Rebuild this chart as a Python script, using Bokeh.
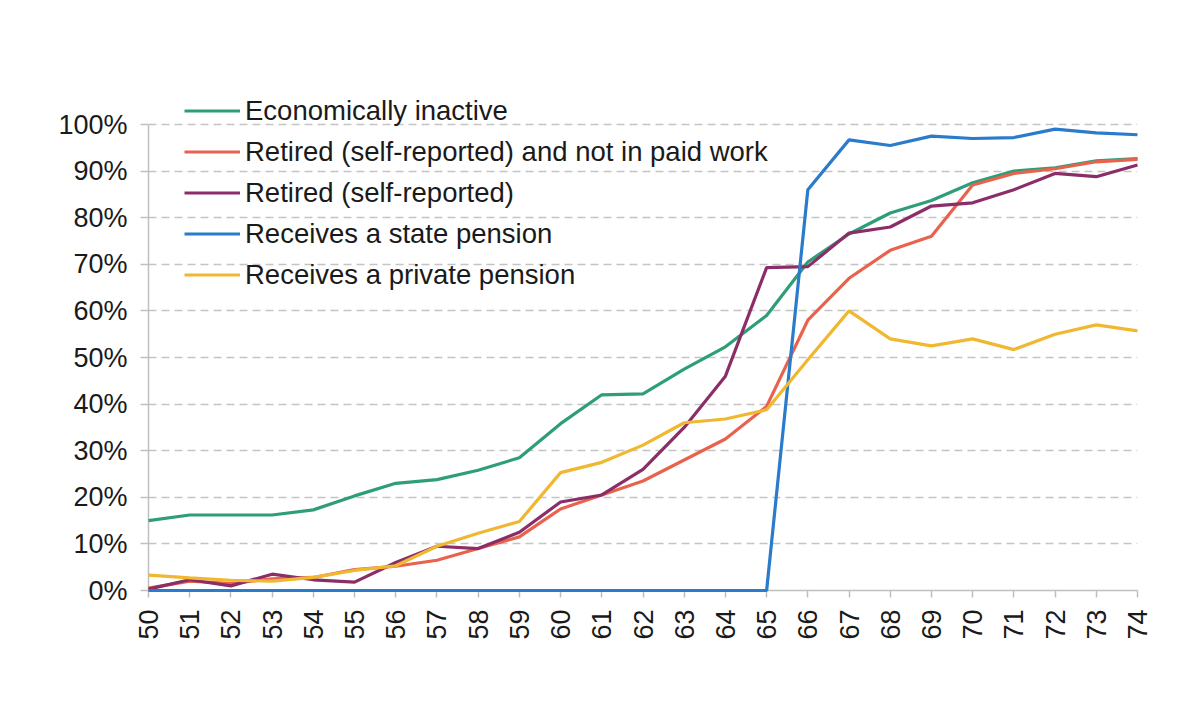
import math
from bokeh.plotting import figure
from bokeh.models import Legend, LegendItem, FixedTicker, PrintfTickFormatter, Range1d
from bokeh.embed import file_html
from bokeh.resources import INLINE

ages = list(range(50, 75))

econ_inactive = [15.0, 16.2, 16.2, 16.2, 17.3, 20.3, 23.0, 23.8, 25.8, 28.5, 35.8, 42.0, 42.2,
                 47.5, 52.3, 59.0, 70.5, 76.5, 81.0, 83.7, 87.5, 90.0, 90.7, 92.2, 92.7]
retired_not_working = [0.5, 2.0, 1.5, 2.5, 2.8, 4.5, 5.2, 6.5, 9.0, 11.5, 17.5, 20.5, 23.5,
                       28.0, 32.5, 39.5, 58.0, 67.0, 73.0, 76.0, 87.0, 89.5, 90.5, 92.0, 92.5]
retired_self = [0.3, 2.3, 1.0, 3.5, 2.3, 1.8, 6.0, 9.5, 9.0, 12.5, 19.0, 20.5, 26.0,
                35.0, 46.0, 69.3, 69.5, 76.7, 78.0, 82.5, 83.2, 86.0, 89.5, 88.8, 91.3]
state_pension = [0.0] * 16 + [86.0, 96.7, 95.5, 97.5, 97.0, 97.2, 99.0, 98.2, 97.8]
private_pension = [3.3, 2.7, 2.2, 2.0, 2.8, 4.3, 5.3, 9.5, 12.3, 14.8, 25.3, 27.5, 31.2,
                   36.0, 36.8, 38.8, 49.5, 60.0, 54.0, 52.5, 54.0, 51.7, 55.0, 57.0, 55.7]

series_names = ["Economically inactive", "Retired (self-reported) and not in paid work",
                "Retired (self-reported)", "Receives a state pension", "Receives a private pension"]
series_values = [econ_inactive, retired_not_working, retired_self, state_pension, private_pension]
colors = ["#2e9e78", "#e8624e", "#8b2e68", "#2b7bcc", "#f0b830"]

y_ticks = list(range(0, 101, 10))

# frame: 466 px for 0..100 %, plus headroom above for the legend
px_per_unit = 466 / 100
frame_h = 504
y_top = frame_h / px_per_unit

p = figure(frame_width=989, frame_height=frame_h, output_backend="svg", toolbar_location=None,
           x_range=Range1d(50, 74), y_range=Range1d(0, y_top),
           min_border_left=148, min_border_top=86, min_border_right=55, min_border_bottom=120)
p.outline_line_color = None
p.background_fill_color = "white"
p.border_fill_color = "white"

renderers = []
for name, vals, col in zip(series_names, series_values, colors):
    r = p.line(ages, vals, line_color=col, line_width=3.2, level="overlay")
    renderers.append((name, r))

font = "Liberation Sans"
p.xaxis.ticker = FixedTicker(ticks=ages)
p.xaxis.major_label_orientation = math.pi / 2
p.xaxis.major_label_text_font = font
p.xaxis.major_label_text_font_size = "27px"
p.xaxis.major_label_text_color = "#1a1a1a"
p.xaxis.major_label_standoff = 12
p.xaxis.major_tick_out = 7
p.xaxis.major_tick_in = 0
p.xaxis.minor_tick_line_color = None
p.xaxis.axis_line_color = "#bfbfbf"
p.xaxis.axis_line_width = 1.5
p.xaxis.major_tick_line_color = "#bfbfbf"
p.xaxis.major_tick_line_width = 1.5

p.yaxis.ticker = FixedTicker(ticks=y_ticks)
p.yaxis.bounds = (0, 100)
p.yaxis.formatter = PrintfTickFormatter(format="%d%%")
p.yaxis.major_label_text_font = font
p.yaxis.major_label_text_font_size = "27px"
p.yaxis.major_label_text_color = "#1a1a1a"
p.yaxis.major_label_standoff = 13
p.yaxis.major_tick_out = 8
p.yaxis.major_tick_in = 0
p.yaxis.minor_tick_line_color = None
p.yaxis.axis_line_color = "#bfbfbf"
p.yaxis.axis_line_width = 1.5
p.yaxis.major_tick_line_color = "#bfbfbf"
p.yaxis.major_tick_line_width = 1.5

p.xgrid.grid_line_color = None
p.ygrid.grid_line_color = "#c4c4c4"
p.ygrid.grid_line_width = 1.5
p.ygrid.grid_line_dash = "8 5"

legend = Legend(items=[LegendItem(label=n, renderers=[r]) for n, r in renderers],
                location=(36, 295), orientation="vertical")
legend.background_fill_alpha = 0
legend.border_line_color = None
legend.padding = 0
legend.margin = 0
legend.spacing = 0
legend.glyph_width = 56
legend.glyph_height = 41
legend.label_height = 41
legend.label_standoff = 5
legend.label_text_font = font
legend.label_text_font_size = "27.5px"
legend.label_text_color = "#1a1a1a"
legend.label_text_baseline = "middle"
p.add_layout(legend, "center")

open("out.html", "w").write(file_html(p, INLINE))
